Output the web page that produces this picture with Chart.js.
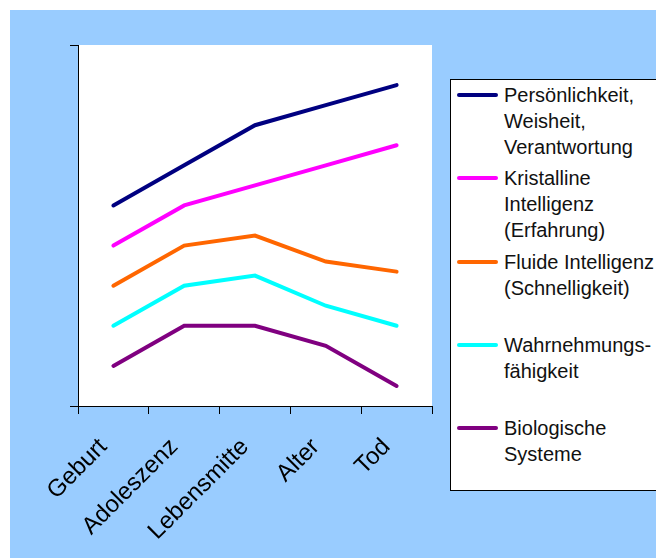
<!DOCTYPE html>
<html>
<head>
<meta charset="utf-8">
<script src="https://cdn.jsdelivr.net/npm/chart.js@4/dist/chart.umd.min.js"></script>
<style>
  html, body { margin: 0; padding: 0; background: #fff; overflow: hidden; }
  #wrap { position: relative; width: 656px; height: 558px; }
  #legend {
    position: absolute; left: 450px; top: 79px; width: 230px; height: 412px;
    background: #fff; border: 1px solid #000; box-sizing: border-box;
    font-family: "Liberation Sans", Arial, sans-serif; font-size: 20px; color: #111;
  }
  .item { position: absolute; left: 0; }
  .swatch { position: absolute; left: 6px; top: 11px; width: 41px; height: 4px; border-radius: 2px; }
  .txt { position: absolute; left: 53px; top: 0; line-height: 26px; white-space: nowrap; }
</style>
</head>
<body>
<div id="wrap">
  <canvas id="mychart" width="656" height="558"></canvas>
  <div id="legend"></div>
</div>
<script>
// Lebensphasen
var categories = ['Geburt', 'Adoleszenz', 'Lebensmitte', 'Alter', 'Tod'];

var seriesNames = [
    ['Persönlichkeit,', 'Weisheit,', 'Verantwortung'],
    ['Kristalline', 'Intelligenz', '(Erfahrung)'],
    ['Fluide Intelligenz', '(Schnelligkeit)'],
    ['Wahrnehmungs-', 'fähigkeit'],
    ['Biologische', 'Systeme']
];

var persoenlichkeit = [10, 12, 14, 15, 16];
var kristallin      = [8, 10, 11, 12, 13];
var fluide          = [6, 8, 8.5, 7.2, 6.7];
var wahrnehmung     = [4, 6, 6.5, 5, 4];
var biologisch      = [2, 4, 4, 3, 1];

var seriesColors = ['#000080', '#FF00FF', '#FF6600', '#00FFFF', '#800080'];

var allValues = [persoenlichkeit, kristallin, fluide, wahrnehmung, biologisch];

var bgPlugin = {
    id: 'bg',
    beforeDraw: function(chart) {
        var ctx = chart.ctx, a = chart.chartArea;
        ctx.save();
        ctx.fillStyle = '#99CCFF';
        ctx.fillRect(10, 10, chart.width - 10, chart.height - 10);
        ctx.fillStyle = '#FFFFFF';
        ctx.fillRect(a.left, a.top, a.right - a.left, a.bottom - a.top);
        ctx.restore();
    }
};

var datasets = allValues.map(function(vals, i) {
    return {
        label: seriesNames[i].join(' '),
        data: vals,
        borderColor: seriesColors[i],
        backgroundColor: seriesColors[i],
        borderWidth: 4,
        borderCapStyle: 'round',
        borderJoinStyle: 'miter',
        pointRadius: 0,
        tension: 0,
        fill: false
    };
});

const myChart = new Chart(document.getElementById('mychart').getContext('2d'),
{
    type: 'line',
    plugins: [bgPlugin],
    data: { labels: categories, datasets: datasets },
    options: {
        responsive: false,
        animation: false,
        layout: { padding: { left: 0, top: 45, right: 224, bottom: 0 } },
        plugins: {
            legend: { display: false },
            tooltip: { enabled: false }
        },
        scales: {
            x: {
                offset: true,
                afterFit: function(s) { s.height = 152; },
                grid: {
                    offset: true,
                    drawOnChartArea: false,
                    drawTicks: true,
                    tickLength: 8,
                    color: '#000'
                },
                border: { display: true, color: '#000', width: 1 },
                ticks: {
                    minRotation: 45,
                    maxRotation: 45,
                    padding: 19,
                    labelOffset: -10,
                    color: '#000',
                    font: { family: '"Liberation Sans", Arial, sans-serif', size: 24 }
                }
            },
            y: {
                min: 0,
                max: 18,
                afterFit: function(s) { s.width = 78; },
                grid: {
                    drawOnChartArea: false,
                    drawTicks: true,
                    tickLength: 8,
                    color: '#000'
                },
                border: { display: true, color: '#000', width: 1 },
                ticks: { stepSize: 18, display: false }
            }
        }
    }
});

// legend
var legend = document.getElementById('legend');
seriesNames.forEach(function(lines, i) {
    var item = document.createElement('div');
    item.className = 'item';
    item.style.top = Math.round(2 + i * 83.3) + 'px';
    var sw = document.createElement('div');
    sw.className = 'swatch';
    sw.style.background = seriesColors[i];
    var tx = document.createElement('div');
    tx.className = 'txt';
    tx.innerHTML = lines.join('<br>');
    item.appendChild(sw);
    item.appendChild(tx);
    legend.appendChild(item);
});
</script>
</body>
</html>
